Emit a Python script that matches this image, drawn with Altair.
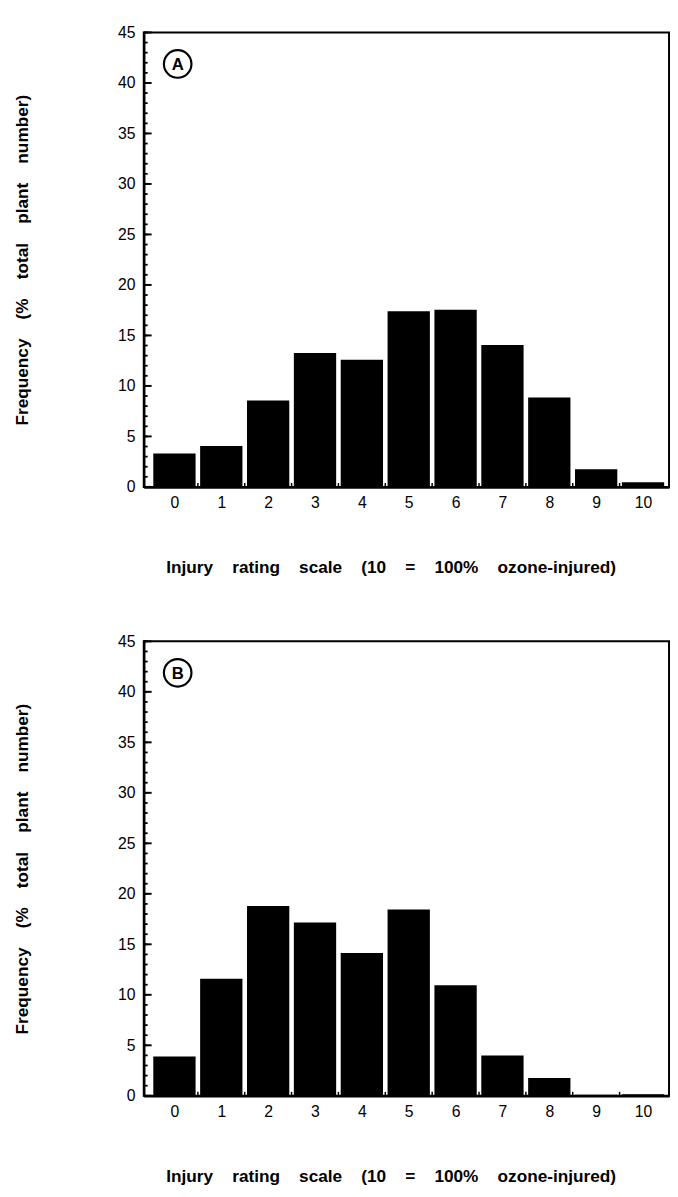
import altair as alt
import pandas as pd

# ---- data ----
ratings = list(range(11))
freq_a = [3.3, 4.05, 8.55, 13.25, 12.6, 17.4, 17.55, 14.05, 8.85, 1.75, 0.45]
freq_b = [3.9, 11.6, 18.8, 17.15, 14.15, 18.45, 10.95, 4.0, 1.75, 0.1, 0.15]
panel_letters = ["A", "B"]
y_major = [0, 5, 10, 15, 20, 25, 30, 35, 40, 45]
y_minor = list(range(0, 46))
x_bounds = [0.5, 1.5, 2.5, 3.5, 4.5, 5.5, 6.5, 7.5, 8.5, 9.5]

SP = "\u00a0" * 4
x_title = SP.join(["Injury", "rating", "scale", "(10", "=", "100%", "ozone-injured)"])
y_title = SP.join(["Frequency", "(%", "total", "plant", "number)"])

FONT = "Liberation Sans"
W, H = 534, 462

xscale = alt.Scale(domain=[-0.55, 10.45], nice=False, zero=False)
yscale = alt.Scale(domain=[0, 45], nice=False, zero=True)

x_axis = alt.Axis(values=ratings, format="d", title=x_title, ticks=False,
                  domainColor="black", domainWidth=2.5, labelFlush=False,
                  labelFont=FONT, labelFontSize=16, labelColor="black",
                  labelPadding=8, titleFont=FONT, titleFontSize=17.5,
                  titleFontWeight="bold", titleColor="black", titlePadding=49,
                  titleX=251)
y_axis = alt.Axis(values=y_major, title=y_title, ticks=False,
                  domainColor="black", domainWidth=2.5,
                  labelFont=FONT, labelFontSize=16, labelColor="black",
                  labelPadding=9, titleFont=FONT, titleFontSize=17.5,
                  titleFontWeight="bold", titleColor="black",
                  titleX=-123, titleBaseline="middle")


def X():
    return alt.X("x:Q", scale=xscale, axis=x_axis)


def Y():
    return alt.Y("y:Q", scale=yscale, axis=y_axis)


def panel(freqs, letter):
    df = pd.DataFrame({"x": ratings, "y": freqs})
    bars = alt.Chart(df).mark_bar(size=43, color="black").encode(x=X(), y=Y())
    major = alt.Chart(pd.DataFrame({"y": y_major})).mark_rule(
        color="black", strokeWidth=2).encode(y=Y(), x=alt.value(0), x2=alt.value(8))
    minor = alt.Chart(pd.DataFrame({"y": y_minor})).mark_rule(
        color="black", strokeWidth=1.8).encode(y=Y(), x=alt.value(0), x2=alt.value(4))
    xt = alt.Chart(pd.DataFrame({"x": x_bounds})).mark_rule(
        color="black", strokeWidth=1.5).encode(x=X(), y=alt.value(H), y2=alt.value(H - 4))
    lab = pd.DataFrame({"t": [letter]})
    circ = alt.Chart(lab).mark_point(shape="circle", size=784, filled=False,
                                     color="black", strokeWidth=2.2, opacity=1).encode(
        x=alt.value(34.5), y=alt.value(32))
    txt = alt.Chart(lab).mark_text(font=FONT, fontSize=17, fontWeight="bold",
                                   color="black", align="center", baseline="middle").encode(
        x=alt.value(34.5), y=alt.value(33), text="t:N")
    return alt.layer(bars, major, minor, xt, circ, txt).properties(width=W, height=H)


chart = alt.vconcat(panel(freq_a, panel_letters[0]), panel(freq_b, panel_letters[1]),
                    spacing=56).properties(
    padding={"left": 4, "top": 6, "right": 0, "bottom": 0}
).configure_view(stroke="black", strokeWidth=2).configure_axis(grid=False)

chart.save("out.html", embed_options={"renderer": "svg", "actions": False})
